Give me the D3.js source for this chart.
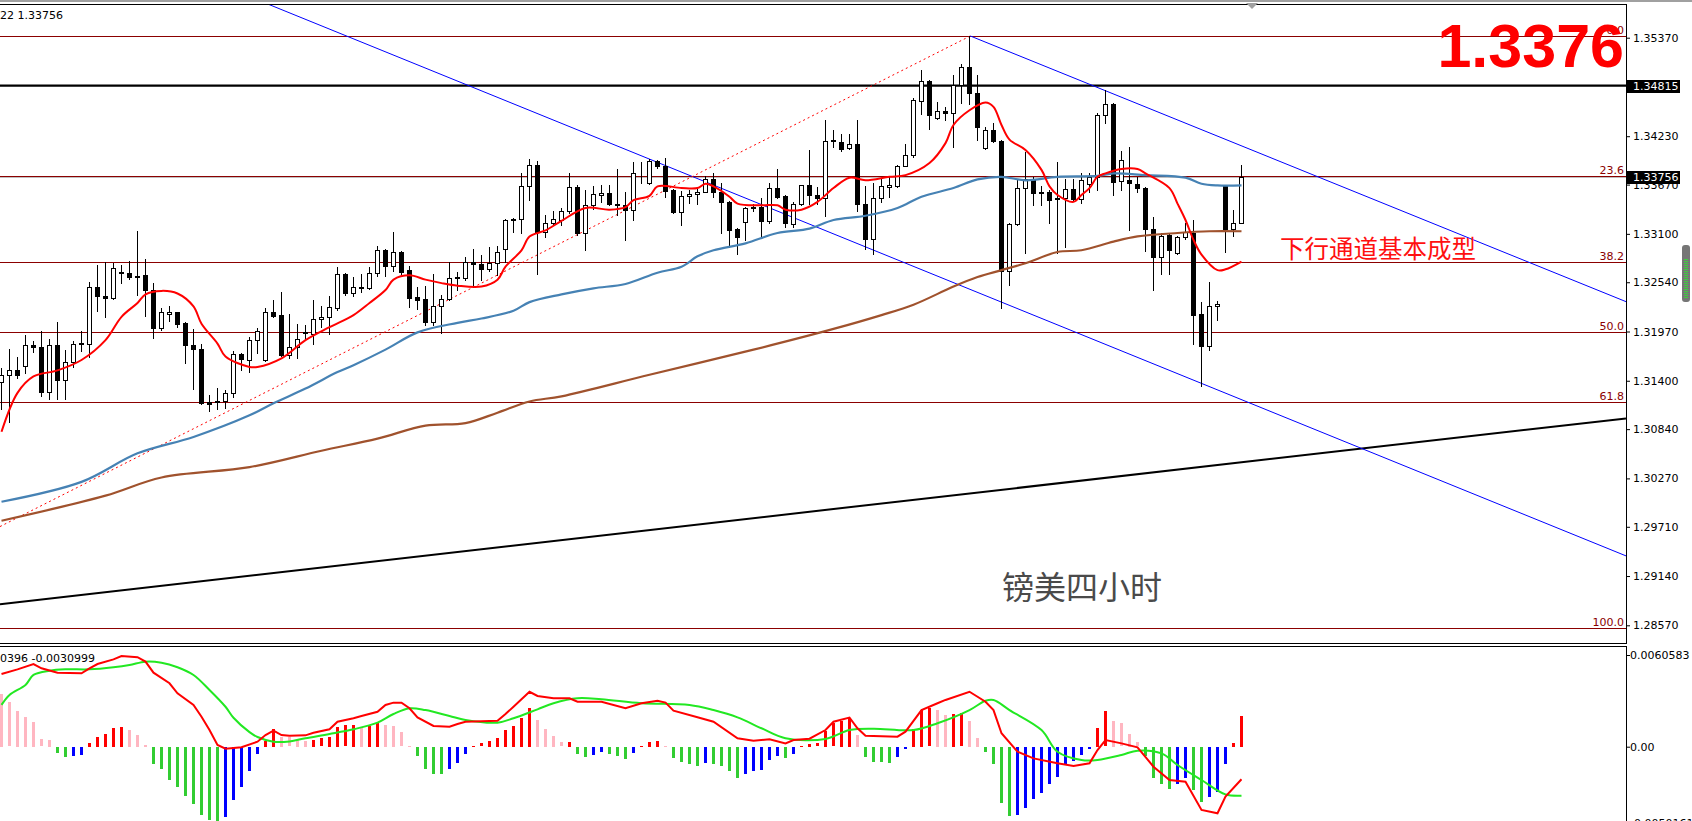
<!DOCTYPE html>
<html><head><meta charset="utf-8">
<script src="https://cdn.jsdelivr.net/npm/d3@7"></script>
<style>
html,body{margin:0;padding:0;background:#fff;overflow:hidden}
svg{display:block}
</style></head><body>
<svg id="c" width="1692" height="821"></svg>
<script>
// ---------- DATA ----------
const open = [1.3139,1.3147,1.3153,1.3157,1.3181,1.3179,1.3127,1.3181,1.3141,1.3162,
1.3184,1.3183,1.3248,1.3238,1.3236,1.3266,1.3265,1.3261,1.3262,1.3245,
1.3201,1.3217,1.3219,1.3207,1.3181,1.3177,1.3115,1.3115,1.3117,1.3126,
1.3171,1.3164,1.3187,1.3164,1.3219,1.3216,1.3170,1.3179,1.3196,1.3194,
1.3211,1.3214,1.3224,1.3264,1.3241,1.3248,1.3247,1.3265,1.3291,1.3273,
1.3289,1.3268,1.3237,1.3235,1.3208,1.3227,1.3235,1.3260,1.3259,1.3278,
1.3275,1.3269,1.3276,1.3292,1.3327,1.3327,1.3365,1.3390,1.3312,1.3323,
1.3326,1.3336,1.3364,1.3311,1.3343,1.3355,1.3357,1.3344,1.3343,1.3338,
1.3381,1.3369,1.3394,1.3388,1.3361,1.3335,1.3354,1.3356,1.3359,1.3374,
1.3359,1.3347,1.3316,1.3324,1.3341,1.3341,1.3325,1.3363,1.3354,1.3321,
1.3345,1.3366,1.3355,1.3351,1.3419,1.3416,1.3409,1.3414,1.3345,1.3304,
1.3351,1.3364,1.3365,1.3389,1.3401,1.3464,1.3487,1.3444,1.3452,1.3450,
1.3482,1.3503,1.3473,1.3409,1.3430,1.3418,1.3267,1.3321,1.3363,1.3374,
1.3358,1.3358,1.3351,1.3351,1.3362,1.3350,1.3368,1.3376,1.3448,1.3460,
1.3371,1.3372,1.3368,1.3363,1.3316,1.3283,1.3309,1.3288,1.3306,1.3311,
1.3217,1.3180,1.3227,1.3365,1.3316,1.3323];
const high = [1.3155,1.3177,1.3167,1.3193,1.3186,1.3198,1.3188,1.3208,1.3176,1.3186,
1.3198,1.3254,1.3274,1.3278,1.3276,1.3274,1.3279,1.3313,1.3281,1.3253,
1.3224,1.3227,1.3220,1.3208,1.3200,1.3183,1.3123,1.3132,1.3129,1.3174,
1.3172,1.3191,1.3201,1.3224,1.3233,1.3243,1.3217,1.3206,1.3204,1.3233,
1.3227,1.3238,1.3272,1.3265,1.3260,1.3263,1.3272,1.3296,1.3293,1.3312,
1.3290,1.3273,1.3249,1.3250,1.3264,1.3239,1.3278,1.3266,1.3283,1.3292,
1.3286,1.3295,1.3296,1.3327,1.3328,1.3381,1.3397,1.3394,1.3332,1.3337,
1.3340,1.3380,1.3366,1.3361,1.3365,1.3366,1.3366,1.3385,1.3359,1.3393,
1.3393,1.3397,1.3396,1.3398,1.3362,1.3360,1.3361,1.3362,1.3377,1.3381,
1.3369,1.3348,1.3317,1.3341,1.3345,1.3351,1.3369,1.3385,1.3355,1.3347,
1.3367,1.3407,1.3364,1.3442,1.3430,1.3426,1.3425,1.3442,1.3365,1.3369,
1.3373,1.3376,1.3390,1.3414,1.3467,1.3500,1.3488,1.3463,1.3457,1.3494,
1.3507,1.3539,1.3494,1.3434,1.3438,1.3419,1.3322,1.3373,1.3405,1.3376,
1.3365,1.3361,1.3393,1.3374,1.3373,1.3381,1.3381,1.3450,1.3477,1.3461,
1.3406,1.3410,1.3376,1.3364,1.3330,1.3311,1.3310,1.3307,1.3323,1.3326,
1.3231,1.3254,1.3232,1.3366,1.3338,1.3390];
const low = [1.3107,1.3092,1.3143,1.3149,1.3173,1.3122,1.3119,1.3119,1.3119,1.3156,
1.3174,1.3167,1.3221,1.3214,1.3235,1.3253,1.3258,1.3239,1.3215,1.3190,
1.3199,1.3209,1.3202,1.3160,1.3130,1.3113,1.3105,1.3107,1.3108,1.3121,
1.3152,1.3150,1.3172,1.3163,1.3214,1.3169,1.3166,1.3166,1.3187,1.3183,
1.3202,1.3194,1.3222,1.3239,1.3238,1.3243,1.3246,1.3261,1.3261,1.3267,
1.3264,1.3225,1.3223,1.3204,1.3205,1.3195,1.3234,1.3245,1.3257,1.3248,
1.3257,1.3267,1.3262,1.3277,1.3312,1.3311,1.3349,1.3263,1.3306,1.3321,
1.3320,1.3334,1.3309,1.3291,1.3339,1.3347,1.3343,1.3332,1.3303,1.3326,
1.3369,1.3368,1.3386,1.3353,1.3334,1.3320,1.3346,1.3345,1.3358,1.3353,
1.3311,1.3295,1.3287,1.3303,1.3336,1.3305,1.3322,1.3352,1.3318,1.3318,
1.3343,1.3345,1.3345,1.3331,1.3410,1.3406,1.3408,1.3336,1.3293,1.3287,
1.3347,1.3353,1.3364,1.3388,1.3399,1.3449,1.3431,1.3443,1.3442,1.3410,
1.3461,1.3460,1.3419,1.3408,1.3416,1.3224,1.3251,1.3320,1.3288,1.3343,
1.3343,1.3322,1.3288,1.3295,1.3349,1.3346,1.3359,1.3361,1.3438,1.3355,
1.3361,1.3315,1.3359,1.3290,1.3245,1.3263,1.3263,1.3287,1.3304,1.3183,
1.3134,1.3176,1.3210,1.3289,1.3307,1.3322];
const close = [1.3147,1.3153,1.3147,1.3181,1.3179,1.3127,1.3181,1.3141,1.3162,1.3182,
1.3183,1.3248,1.3238,1.3236,1.3270,1.3265,1.3260,1.3260,1.3245,1.3201,
1.3220,1.3219,1.3206,1.3181,1.3177,1.3114,1.3113,1.3117,1.3126,1.3171,
1.3165,1.3187,1.3197,1.3219,1.3215,1.3170,1.3179,1.3188,1.3195,1.3211,
1.3214,1.3225,1.3264,1.3241,1.3248,1.3247,1.3265,1.3291,1.3273,1.3289,
1.3266,1.3236,1.3234,1.3208,1.3227,1.3235,1.3259,1.3259,1.3278,1.3275,
1.3269,1.3276,1.3289,1.3326,1.3326,1.3365,1.3390,1.3312,1.3323,1.3327,
1.3336,1.3364,1.3311,1.3343,1.3356,1.3357,1.3344,1.3343,1.3338,1.3380,
1.3380,1.3394,1.3388,1.3360,1.3335,1.3354,1.3356,1.3359,1.3374,1.3358,
1.3347,1.3315,1.3306,1.3340,1.3340,1.3325,1.3363,1.3353,1.3322,1.3345,
1.3366,1.3355,1.3351,1.3418,1.3417,1.3408,1.3414,1.3344,1.3304,1.3351,
1.3365,1.3366,1.3389,1.3401,1.3465,1.3487,1.3448,1.3452,1.3450,1.3482,
1.3503,1.3473,1.3434,1.3430,1.3417,1.3267,1.3321,1.3363,1.3374,1.3357,
1.3357,1.3349,1.3350,1.3362,1.3350,1.3372,1.3376,1.3448,1.3460,1.3370,
1.3396,1.3369,1.3363,1.3316,1.3283,1.3307,1.3291,1.3306,1.3312,1.3216,
1.3180,1.3226,1.3229,1.3316,1.3323,1.33756];

// moving averages: [candle index, price]
const maFast = [[0,1.3081],[2,1.3126],[4,1.3145],[7,1.3152],[10,1.3164],[13,1.3187],[15,1.3214],[17,1.3230],[18,1.3240],[20,1.3244],[22,1.3241],[24,1.3226],[25,1.3206],[27,1.3183],[28,1.3168],[31,1.3156],[32,1.3156],[35,1.3166],[38,1.3187],[41,1.3202],[44,1.3216],[46,1.3230],[48,1.3245],[49,1.3257],[51,1.3262],[53,1.3257],[55,1.3253],[57,1.3250],[60,1.3249],[62,1.3257],[63,1.3272],[65,1.3291],[66,1.3307],[68,1.3314],[70,1.3325],[73,1.3340],[76,1.3338],[78,1.3341],[79,1.3349],[81,1.3354],[82,1.3365],[85,1.3363],[87,1.3363],[88,1.3368],[89,1.3365],[91,1.3353],[92,1.3345],[95,1.3343],[97,1.3343],[98,1.3338],[100,1.3338],[102,1.3347],[104,1.3363],[106,1.3375],[108,1.3372],[111,1.3376],[113,1.3378],[116,1.3392],[118,1.3415],[119,1.3436],[121,1.3453],[123,1.3462],[124,1.3457],[125,1.3436],[126,1.3419],[128,1.3407],[130,1.3384],[131,1.3365],[132,1.3355],[134,1.3347],[135,1.3355],[136,1.3363],[137,1.3376],[138,1.3380],[140,1.3385],[142,1.3385],[143,1.3380],[146,1.3363],[147,1.3345],[148,1.3326],[149,1.3303],[150,1.3286],[152,1.3268],[153,1.3269],[155,1.3278]];
const maMid = [[0,1.3000],[10,1.3023],[17,1.3056],[24,1.3075],[31,1.3100],[34,1.3114],[38,1.3131],[42,1.3150],[44,1.3158],[48,1.3176],[52,1.3196],[57,1.3207],[60,1.3212],[64,1.3221],[66,1.3231],[70,1.3240],[74,1.3247],[78,1.3252],[82,1.3265],[85,1.3272],[87,1.3284],[89,1.3291],[93,1.3299],[97,1.3311],[101,1.3316],[104,1.3326],[108,1.3331],[112,1.3340],[115,1.3353],[119,1.3363],[122,1.3373],[125,1.3376],[128,1.3372],[132,1.3376],[137,1.3377],[139,1.3380],[143,1.3378],[148,1.3375],[150,1.3368],[152,1.3366],[155,1.3366]];
const maSlow = [[0,1.2978],[13,1.3007],[20,1.3028],[31,1.3040],[40,1.3059],[47,1.3073],[53,1.3088],[58,1.3091],[62,1.3103],[66,1.3116],[70,1.3122],[81,1.3147],[94,1.3176],[104,1.3200],[110,1.3216],[114,1.3228],[119,1.3249],[122,1.3260],[125,1.3268],[128,1.3276],[132,1.3289],[135,1.3291],[139,1.3301],[142,1.3307],[147,1.3311],[151,1.3313],[155,1.3313]];

// MACD
const macdHist = [0.00348,0.00293,0.00238,0.00198,0.00165,0.00048,0.00046,-0.00038,-0.00066,-0.00059,
-0.00056,0.00026,0.00064,0.00086,0.00126,0.00132,0.00112,0.00079,0.00013,-0.00110,
-0.00147,-0.00218,-0.00262,-0.00324,-0.00379,-0.00447,-0.00485,-0.00488,-0.00461,-0.00348,
-0.00264,-0.00157,-0.00048,0.00040,0.00117,0.00066,0.00061,0.00044,0.00040,0.00046,
0.00055,0.00066,0.00132,0.00141,0.00145,0.00132,0.00139,0.00165,0.00145,0.00139,
0.00095,0.00007,-0.00059,-0.00143,-0.00176,-0.00180,-0.00143,-0.00104,-0.00044,0.00002,
0.00022,0.00040,0.00059,0.00112,0.00139,0.00190,0.00256,0.00176,0.00117,0.00071,
0.00028,0.00033,-0.00044,-0.00066,-0.00051,-0.00033,-0.00044,-0.00059,-0.00077,-0.00038,
0.00005,0.00033,0.00040,0.00004,-0.00071,-0.00097,-0.00110,-0.00126,-0.00104,-0.00110,
-0.00126,-0.00159,-0.00203,-0.00180,-0.00159,-0.00152,-0.00088,-0.00059,-0.00071,-0.00044,
0.00005,0.00018,0.00022,0.00106,0.00154,0.00172,0.00190,0.00079,-0.00066,-0.00097,
-0.00098,-0.00104,-0.00066,-0.00011,0.00117,0.00243,0.00253,0.00245,0.00212,0.00216,
0.00220,0.00172,0.00058,-0.00031,-0.00110,-0.00368,-0.00456,-0.00449,-0.00401,-0.00346,
-0.00302,-0.00247,-0.00196,-0.00114,-0.00093,-0.00053,-0.00011,0.00124,0.00233,0.00172,
0.00154,0.00084,0.00028,-0.00059,-0.00207,-0.00247,-0.00280,-0.00247,-0.00205,-0.00286,
-0.00366,-0.00332,-0.00297,-0.00114,0.00026,0.00205];
const macdMain = [[0,0.00480],[2,0.00511],[4,0.00546],[5,0.00518],[7,0.00489],[10,0.00485],[11,0.00518],[12,0.00546],[14,0.00577],[15,0.00599],[17,0.00591],[18,0.00562],[19,0.00489],[21,0.00419],[22,0.00353],[24,0.00276],[25,0.00198],[26,0.00110],[27,0.00011],[28,-0.00013],[30,-0.00004],[32,0.00033],[33,0.00077],[34,0.00106],[35,0.00077],[36,0.00073],[38,0.00075],[39,0.00092],[41,0.00115],[42,0.00165],[44,0.00188],[45,0.00203],[47,0.00231],[48,0.00276],[49,0.00291],[50,0.00291],[51,0.00254],[52,0.00194],[54,0.00137],[56,0.00132],[57,0.00150],[58,0.00165],[62,0.00172],[63,0.00216],[64,0.00264],[66,0.00363],[67,0.00335],[69,0.00320],[71,0.00320],[72,0.00297],[75,0.00297],[78,0.00254],[80,0.00287],[82,0.00304],[83,0.00291],[84,0.00238],[87,0.00194],[89,0.00165],[92,0.00056],[94,0.00040],[96,0.00049],[98,0.00022],[99,0.00044],[101,0.00053],[103,0.00110],[104,0.00165],[106,0.00192],[107,0.00122],[108,0.00073],[112,0.00066],[113,0.00099],[115,0.00242],[117,0.00287],[118,0.00309],[121,0.00363],[123,0.00297],[124,0.00242],[125,0.00089],[127,-0.00033],[129,-0.00077],[132,-0.00110],[134,-0.00128],[136,-0.00110],[137,-0.00022],[138,0.00044],[140,0.00022],[142,-0.00004],[144,-0.00132],[146,-0.00220],[148,-0.00231],[150,-0.00418],[152,-0.00440],[153,-0.00330],[155,-0.00215]];
const macdSignal = [[0,0.00276],[1,0.00342],[3,0.00408],[4,0.00474],[6,0.00502],[8,0.00511],[11,0.00511],[14,0.00525],[16,0.00540],[18,0.00562],[20,0.00555],[22,0.00525],[24,0.00474],[26,0.00375],[28,0.00264],[29,0.00191],[31,0.00096],[32,0.00064],[34,0.00033],[36,0.00035],[38,0.00056],[41,0.00084],[44,0.00115],[47,0.00159],[49,0.00216],[51,0.00254],[53,0.00242],[56,0.00203],[58,0.00176],[62,0.00159],[64,0.00188],[67,0.00247],[69,0.00287],[72,0.00320],[75,0.00313],[80,0.00287],[86,0.00276],[89,0.00242],[92,0.00194],[95,0.00122],[98,0.00056],[103,0.00051],[106,0.00110],[109,0.00119],[114,0.00110],[117,0.00155],[121,0.00242],[123,0.00304],[124,0.00309],[126,0.00242],[130,0.00110],[132,-0.00033],[135,-0.00088],[137,-0.00088],[140,-0.00055],[142,-0.00026],[145,-0.00044],[147,-0.00121],[150,-0.00220],[153,-0.00315],[155,-0.00324]];

// drawn objects (index, price)
const channelLower = [[33.6,1.35748],[203.1,1.29372]];
const channelUpper = [[121.1,1.35390],[203.1,1.32314]];
const fiboBase = [[-0.2,1.29712],[121.1,1.35390]];
const trendSupport = [[-0.2,1.28813],[203.1,1.30965]];
const fiboHigh = 1.35390, fiboLow = 1.28535;
const fiboLevels = [0,23.6,38.2,50,61.8,100];
const fiboLabels = ["0.0","23.6","38.2","50.0","61.8","100.0"];
const resistance = 1.34815;
const bid = 1.33756;

// axis ticks
const priceTicks = [1.35370,1.34230,1.33670,1.33100,1.32540,1.31970,1.31400,1.30840,1.30270,1.29710,1.29140,1.28570];
const macdTicks = [0.0060583,0,-0.0050161];
const macdTickLabels = ["0.0060583","0.00","-0.0050161"];
const priceHeader = "22 1.33756";
const macdHeader = "0396 -0.0030999";
const bigPrice = "1.3376";
const noteChannel = "下行通道基本成型";
const noteTitle = "镑美四小时";

// ---------- LAYOUT ----------
const W=1692,H=821, plotR=1626, mainTop=4, mainBot=643, macdTop=647, macdBot=821;
const FONT='"DejaVu Sans", sans-serif';
const x=d3.scaleLinear().domain([0,155]).range([1.5,1241.5]);
const y=d3.scaleLinear().domain([1.2857,1.3537]).range([625.3,37.7]);
const ym=d3.scaleLinear().domain([0,0.0060583]).range([746.7,655]);

const svg=d3.select('#c');
svg.append('rect').attr('width',W).attr('height',H).attr('fill','#fff');
svg.append('rect').attr('x',0).attr('y',0).attr('width',W).attr('height',2).attr('fill','#a0a0a0');

const defs=svg.append('defs');
defs.append('clipPath').attr('id','mainClip').append('rect').attr('x',0).attr('y',mainTop+1).attr('width',plotR).attr('height',mainBot-mainTop-1);
defs.append('clipPath').attr('id','macdClip').append('rect').attr('x',0).attr('y',macdTop).attr('width',plotR).attr('height',macdBot-macdTop);

const main=svg.append('g').attr('clip-path','url(#mainClip)');

// fibo levels
const fibPrice = l => fiboHigh-(fiboHigh-fiboLow)*l/100;
const fg=main.append('g');
fg.selectAll('line').data(fiboLevels).join('line')
  .attr('x1',0).attr('x2',plotR)
  .attr('y1',d=>Math.round(y(fibPrice(d)))+0.5).attr('y2',d=>Math.round(y(fibPrice(d)))+0.5)
  .attr('stroke','#8b0000').attr('stroke-width',1).attr('shape-rendering','crispEdges');
fg.selectAll('text').data(fiboLevels).join('text')
  .attr('x',plotR-2).attr('y',d=>Math.round(y(fibPrice(d)))-2)
  .attr('text-anchor','end').attr('font-family',FONT).attr('font-size',11).attr('fill','#8b0000')
  .text((d,i)=>fiboLabels[i]);

// bid line and resistance
main.append('line').attr('x1',0).attr('x2',plotR).attr('y1',Math.round(y(bid))+0.5).attr('y2',Math.round(y(bid))+0.5)
  .attr('stroke','#c0c0c0').attr('shape-rendering','crispEdges');
main.append('line').attr('x1',0).attr('x2',plotR).attr('y1',y(resistance)).attr('y2',y(resistance))
  .attr('stroke','#000').attr('stroke-width',2.2);

// trend lines
function seg(p, extL, extR){
  const x1=x(p[0][0]),y1=y(p[0][1]),x2=x(p[1][0]),y2=y(p[1][1]);
  const s=(y2-y1)/(x2-x1);
  const xa=extL?0:x1, xb=extR?plotR:x2;
  return [[xa,y1+s*(xa-x1)],[xb,y1+s*(xb-x1)]];
}
const lineGen=d3.line();
main.append('path').attr('d',lineGen(seg(trendSupport,true,true))).attr('fill','none').attr('stroke','#000').attr('stroke-width',2);
main.append('path').attr('d',lineGen(seg(channelLower,true,true))).attr('fill','none').attr('stroke','#0000ff').attr('stroke-width',1);
main.append('path').attr('d',lineGen(seg(channelUpper,false,true))).attr('fill','none').attr('stroke','#0000ff').attr('stroke-width',1);
main.append('path').attr('d',lineGen(seg(fiboBase,true,false))).attr('fill','none').attr('stroke','#ff0000').attr('stroke-width',1).attr('stroke-dasharray','2,3');

// candles
const idx=d3.range(open.length);
const cg=main.append('g').attr('shape-rendering','crispEdges');
cg.selectAll('line').data(idx).join('line')
  .attr('x1',i=>x(i)).attr('x2',i=>x(i))
  .attr('y1',i=>Math.round(y(high[i]))).attr('y2',i=>Math.round(y(low[i]))+1)
  .attr('stroke','#000');
cg.selectAll('rect').data(idx).join('rect')
  .attr('x',i=>x(i)-2)
  .attr('y',i=>Math.round(y(Math.max(open[i],close[i])))+0.5)
  .attr('width',4)
  .attr('height',i=>Math.max(0,Math.round(y(Math.min(open[i],close[i])))-Math.round(y(Math.max(open[i],close[i])))))
  .attr('fill',i=>close[i]>=open[i]?'#fff':'#000')
  .attr('stroke','#000');

// moving averages
const maLine=d3.line().x(d=>x(d[0])).y(d=>y(d[1])).curve(d3.curveCatmullRom.alpha(0.5));
main.append('path').attr('d',maLine(maSlow)).attr('fill','none').attr('stroke','#a0522d').attr('stroke-width',2.2);
main.append('path').attr('d',maLine(maMid)).attr('fill','none').attr('stroke','#4682b4').attr('stroke-width',2.2);
main.append('path').attr('d',maLine(maFast)).attr('fill','none').attr('stroke','#ff0000').attr('stroke-width',2);

// annotations
svg.append('text').attr('x',1280).attr('y',247.5).attr('dominant-baseline','central')
  .attr('font-family','"Noto Sans CJK SC", sans-serif').attr('font-size',24.5).attr('fill','#ff1010').text(noteChannel);
svg.append('text').attr('x',1002).attr('y',585).attr('dominant-baseline','central')
  .attr('font-family','"Noto Sans CJK SC", sans-serif').attr('font-size',32).attr('fill','#4a4a4a').text(noteTitle);
svg.append('text').attr('x',1624).attr('y',67).attr('text-anchor','end')
  .attr('font-family','"Liberation Sans", Arial, sans-serif').attr('font-weight','bold').attr('font-size',61).attr('fill','#ff0000').text(bigPrice);

// frames
const fr=svg.append('g').attr('stroke','#000').attr('shape-rendering','crispEdges');
fr.append('line').attr('x1',0).attr('x2',plotR+1).attr('y1',mainTop+0.5).attr('y2',mainTop+0.5);
fr.append('line').attr('x1',0).attr('x2',plotR+1).attr('y1',mainBot+0.5).attr('y2',mainBot+0.5);
fr.append('line').attr('x1',0).attr('x2',plotR+1).attr('y1',macdTop-0.5).attr('y2',macdTop-0.5);
fr.append('line').attr('x1',plotR+0.5).attr('x2',plotR+0.5).attr('y1',mainTop).attr('y2',mainBot+1);
fr.append('line').attr('x1',plotR+0.5).attr('x2',plotR+0.5).attr('y1',macdTop-1).attr('y2',macdBot);

// price axis
const ax=svg.append('g').attr('transform',`translate(${plotR},0)`)
  .call(d3.axisRight(y).tickValues(priceTicks).tickFormat(d3.format('.5f')).tickSize(4).tickPadding(3));
ax.select('.domain').remove();
ax.attr('font-family',FONT).attr('font-size',11);
ax.selectAll('text').attr('fill','#000');
ax.selectAll('line').attr('stroke','#000');

// price boxes
[resistance,bid].forEach(v=>{
  const yy=Math.round(y(v));
  svg.append('rect').attr('x',plotR+1).attr('y',yy-6).attr('width',53).attr('height',13).attr('fill','#000');
  svg.append('text').attr('x',plotR+7).attr('y',yy+0.5).attr('dominant-baseline','central')
    .attr('font-family',FONT).attr('font-size',11).attr('fill','#fff').text(d3.format('.5f')(v));
});

// header text
svg.append('text').attr('x',0).attr('y',19).attr('font-family',FONT).attr('font-size',11).attr('fill','#000').text(priceHeader);

// top marker
svg.append('path').attr('d','M1246,3L1258,3L1252,9Z').attr('fill','#a0a0a0');

// scroll thumb
const sb=svg.append('g');
sb.append('rect').attr('x',1682).attr('y',245).attr('width',8).attr('height',57).attr('rx',3).attr('fill','#767676');
d3.range(20).forEach(k=>{
  sb.append('line').attr('x1',1684).attr('x2',1688).attr('y1',259.5+k*2).attr('y2',259.5+k*2).attr('stroke','#3ecf3e').attr('shape-rendering','crispEdges');
});

// ---------- MACD ----------
const mg=svg.append('g').attr('clip-path','url(#macdClip)');
const barColor=(d,i)=>{
  const prev=i>0?macdHist[i-1]:Infinity;
  if(d>=0) return d>prev?'#ff0000':'#ffb6c1';
  return d<prev?'#32cd32':'#0000ff';
};
mg.append('g').attr('shape-rendering','crispEdges').selectAll('rect').data(macdHist).join('rect')
  .attr('x',(d,i)=>x(i)-1.5).attr('width',3)
  .attr('y',d=>Math.round(Math.min(ym(d),ym(0))))
  .attr('height',d=>Math.max(1,Math.round(Math.abs(ym(d)-ym(0)))))
  .attr('fill',barColor);
const mLine=d3.line().x(d=>x(d[0])).y(d=>ym(d[1])).curve(d3.curveCatmullRom.alpha(0.5));
mg.append('path').attr('d',mLine(macdSignal)).attr('fill','none').attr('stroke','#22e822').attr('stroke-width',2);
mg.append('path').attr('d',d3.line().x(d=>x(d[0])).y(d=>ym(d[1]))(macdMain)).attr('fill','none').attr('stroke','#ff0000').attr('stroke-width',2);

const max=svg.append('g').attr('transform',`translate(${plotR},0)`)
  .call(d3.axisRight(ym).tickValues(macdTicks).tickFormat((d,i)=>macdTickLabels[i]).tickSize(4).tickPadding(0));
max.select('.domain').remove();
max.attr('font-family',FONT).attr('font-size',11);
max.selectAll('text').attr('fill','#000');
max.selectAll('line').attr('stroke','#000');

svg.append('text').attr('x',0).attr('y',661.5).attr('font-family',FONT).attr('font-size',11).attr('fill','#000').text(macdHeader);
</script>
</body></html>
